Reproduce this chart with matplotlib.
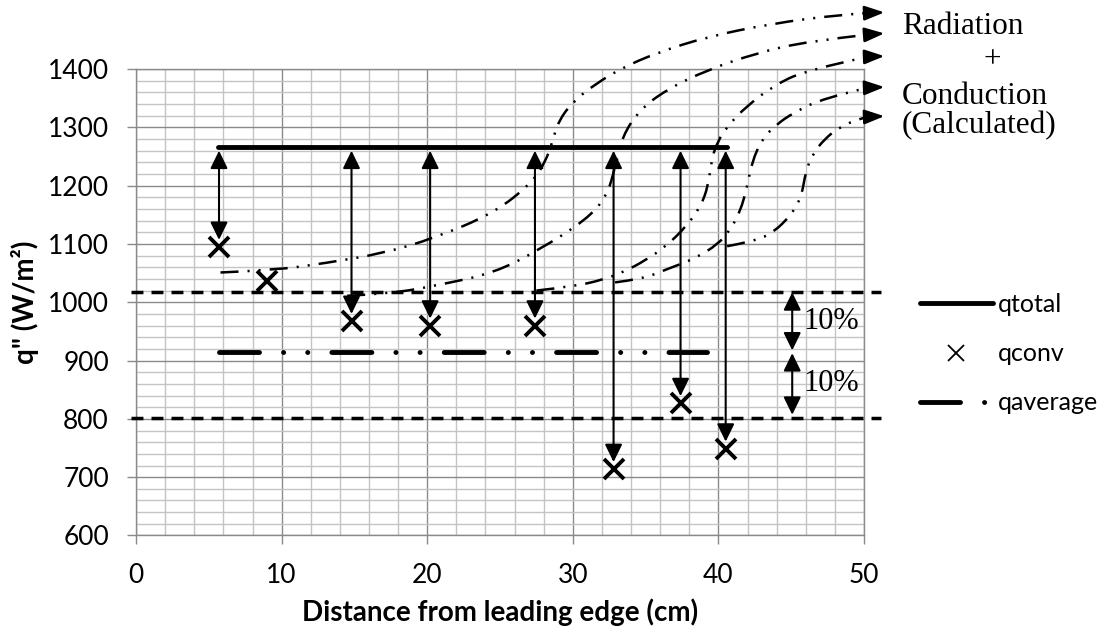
import numpy as np
import matplotlib.pyplot as plt
from matplotlib.lines import Line2D
from matplotlib.path import Path
from matplotlib.patches import PathPatch
from matplotlib.ticker import MultipleLocator

plt.rcParams['font.family'] = ['Lato', 'DejaVu Sans']
plt.rcParams['lines.scale_dashes'] = False

# --- measured heat flux along the plate ---
x_pos = [5.7, 9.0, 14.8, 20.2, 27.4, 32.8, 37.4, 40.5]
q_conv = [1095, 1037, 968, 960, 960, 714, 827, 749]
has_arrow = [True, False, True, True, True, True, True, True]

q_total = 1267
q_total_span = [5.6, 40.6]
q_average = 915
q_average_span = [5.72, 39.23]

# +/-10 % band around the average
band_levels = [1017, 801]
band_span = [-0.35, 51.2]
pct_x = 45.07

# radiation + conduction sweeps (control points, data units)
sweep_a = [(5.8, 1051), (9.5, 1055), (13.0, 1067), (17.0, 1084), (20.5, 1110),
           (24.6, 1153), (27.2, 1205), (28.1, 1240), (28.6, 1275), (29.0, 1310),
           (30.0, 1344), (31.6, 1375), (33.4, 1402), (35.7, 1427), (39.2, 1455),
           (43.7, 1478), (48.3, 1493), (50.3, 1496)]
sweep_b = [(14.5, 1011), (17.5, 1015), (20.5, 1028), (24.6, 1050), (27.7, 1090),
           (30.9, 1141), (32.3, 1180), (32.9, 1230), (33.4, 1285), (34.6, 1330),
           (36.4, 1364), (39.2, 1398), (42.6, 1427), (46.0, 1447), (50.3, 1459)]
sweep_c = [(27.5, 1020), (30.0, 1027), (32.0, 1038), (33.5, 1052), (35.0, 1072),
           (36.4, 1096), (37.8, 1130), (38.8, 1165), (39.3, 1200), (39.5, 1240),
           (39.9, 1275), (40.8, 1307), (41.9, 1335), (43.7, 1370), (46.0, 1398),
           (50.3, 1421)]
sweep_d = [(32.9, 1034), (34.8, 1040), (36.5, 1057), (38.4, 1075), (40.0, 1100),
           (40.8, 1124), (41.5, 1155), (42.0, 1201), (42.3, 1240), (43.0, 1280),
           (44.0, 1305), (45.1, 1324), (47.2, 1350), (50.3, 1368)]
sweep_e = [(40.6, 1096), (42.5, 1105), (43.8, 1120), (45.0, 1150), (45.7, 1180),
           (46.0, 1225), (46.5, 1255), (47.3, 1280), (48.3, 1300), (49.7, 1315),
           (50.3, 1318)]
sweep_tips = [(51.4, 1497), (51.4, 1461), (51.4, 1422), (51.4, 1369), (51.4, 1319)]

fig = plt.figure(figsize=(11.05, 6.34), dpi=100)
ax = fig.add_axes([0.1231, 0.1554, 0.6588, 0.7358])
ax.set_xlim(0, 50)
ax.set_ylim(600, 1400)

# excel-style grid
ax.xaxis.set_major_locator(MultipleLocator(10))
ax.xaxis.set_minor_locator(MultipleLocator(2))
ax.yaxis.set_major_locator(MultipleLocator(100))
ax.yaxis.set_minor_locator(MultipleLocator(20))
ax.grid(which='minor', color='#c4c4c4', lw=1.0, zorder=0)
ax.grid(which='major', color='#8a8a8a', lw=1.0, zorder=0)
ax.set_axisbelow(True)
for sp in ax.spines.values():
    sp.set_color('#8a8a8a')
    sp.set_linewidth(1.0)
ax.tick_params(which='major', direction='out', length=6.5, width=1.0,
               color='#8a8a8a', labelsize=19, pad=13)
ax.tick_params(which='minor', length=0)

ax.set_xlabel('Distance from leading edge (cm)', fontsize=20, fontweight='bold',
              labelpad=8)
ax.set_ylabel('q" (W/m²)', fontsize=20, fontweight='bold', labelpad=6)

# total flux, average and band
ax.plot(q_total_span, [q_total, q_total], color='black', lw=3.5,
        solid_capstyle='round', zorder=4, label='qtotal')
avg_line, = ax.plot(q_average_span, [q_average, q_average], color='black', lw=3.5,
                    dash_capstyle='round',
                    linestyle=(0, (28.8, 17.3, 0.1, 17.3, 0.1, 17.3)),
                    zorder=4, label='qaverage')
for lvl in band_levels:
    ax.plot(band_span, [lvl, lvl], color='black', lw=2.5,
            linestyle=(0, (8.6, 5.8)), clip_on=False, zorder=4)

# convective points with arrows from the total
ax.plot(x_pos, q_conv, linestyle='none', marker='x', ms=15, mew=2.8,
        color='black', zorder=5)
for xv, qv, ok in zip(x_pos, q_conv, has_arrow):
    if ok:
        ax.annotate('', xy=(xv, qv), xytext=(xv, q_total),
                    arrowprops=dict(arrowstyle='<|-|>,head_length=0.45,head_width=0.22',
                                    mutation_scale=24, lw=1.5, color='black',
                                    shrinkA=3, shrinkB=5), zorder=6)

# +/-10 % arrows
ax.annotate('', xy=(pct_x, band_levels[0]), xytext=(pct_x, q_average),
            arrowprops=dict(arrowstyle='<|-|>,head_length=0.45,head_width=0.22',
                            mutation_scale=24, lw=1.5, color='black',
                            shrinkA=1, shrinkB=0))
ax.annotate('', xy=(pct_x, q_average), xytext=(pct_x, band_levels[1] + 6),
            arrowprops=dict(arrowstyle='<|-|>,head_length=0.45,head_width=0.22',
                            mutation_scale=24, lw=1.5, color='black',
                            shrinkA=0, shrinkB=1))
ax.text(45.85, 954, '10%', family='Liberation Serif', fontsize=22,
        va='baseline', ha='left')
ax.text(45.85, 848, '10%', family='Liberation Serif', fontsize=22,
        va='baseline', ha='left')


def smooth_path(pts):
    # quadratic b-spline through the midpoints of the control points
    verts = [pts[0]]
    codes = [Path.MOVETO]
    for i in range(1, len(pts) - 2):
        mid = ((pts[i][0] + pts[i + 1][0]) / 2, (pts[i][1] + pts[i + 1][1]) / 2)
        verts += [pts[i], mid]
        codes += [Path.CURVE3, Path.CURVE3]
    verts += [pts[-2], pts[-1]]
    codes += [Path.CURVE3, Path.CURVE3]
    return Path(verts, codes)


for pts, tip in zip([sweep_a, sweep_b, sweep_c, sweep_d, sweep_e], sweep_tips):
    ax.add_patch(PathPatch(smooth_path(pts), fill=False, lw=1.8, edgecolor='black',
                           linestyle=(0, (13, 6.5, 1.5, 6.5, 1.5, 6.5)),
                           clip_on=False, zorder=3))
    ax.annotate('', xy=tip, xytext=pts[-1], annotation_clip=False,
                arrowprops=dict(arrowstyle='-|>,head_length=0.6,head_width=0.22',
                                mutation_scale=20, lw=1.8, color='black',
                                shrinkA=0, shrinkB=0))

serif = dict(family='Liberation Serif', fontsize=22.5, clip_on=False)
ax.text(52.6, 1460, 'Radiation', ha='left', va='baseline', **serif)
ax.text(58.8, 1415, '+', ha='center', va='center', **serif)
ax.text(52.6, 1340, 'Conduction', ha='left', va='baseline', **serif)
ax.text(52.6, 1290, '(Calculated)', ha='left', va='baseline', **serif)

# legend
handles = [Line2D([], [], color='black', lw=3.5, solid_capstyle='round'),
           Line2D([], [], linestyle='none', marker='x', ms=11, mew=1.3, color='black'),
           avg_line]
ax.legend(handles, ['qtotal', 'qconv', 'qaverage'], loc='upper left',
          bbox_to_anchor=(920 / 1105, 1 - 293 / 634), bbox_transform=fig.transFigure,
          frameon=False, fontsize=18, handlelength=2.9, handletextpad=0.2,
          labelspacing=1.05, borderpad=0, borderaxespad=0)

fig.savefig('out.png', dpi=100)
